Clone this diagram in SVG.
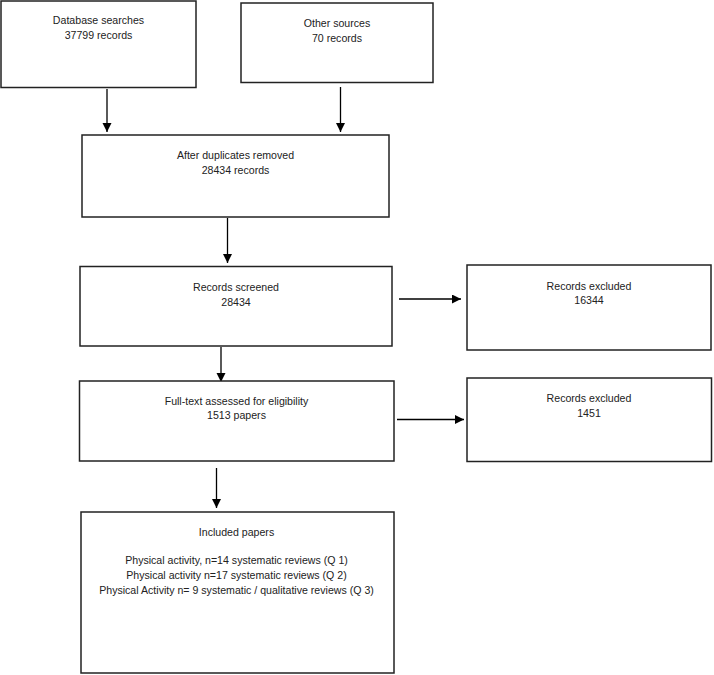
<svg xmlns="http://www.w3.org/2000/svg" width="714" height="675" viewBox="0 0 714 675">
<style>
.box{fill:#fff;stroke:#222;stroke-width:1.5}
.t{font-family:"Liberation Sans",Arial,sans-serif;font-size:10.6px;fill:#222;text-anchor:middle}
.c{stroke:#000;stroke-width:1.3;fill:none;marker-end:url(#ah)}
</style>
<defs>
<marker id="ah" markerWidth="10" markerHeight="10" refX="9" refY="4.5" orient="auto" markerUnits="userSpaceOnUse">
<path d="M0,0 L9,4.5 L0,9 Z" fill="#000"/>
</marker>
</defs>
<rect width="714" height="675" fill="#fff"/>
<g id="connectors">
<line class="c" x1="107" y1="89" x2="107" y2="132"/>
<line class="c" x1="340.5" y1="87" x2="340.5" y2="132"/>
<line class="c" x1="227.5" y1="218" x2="227.5" y2="263"/>
<line class="c" x1="399" y1="299" x2="461" y2="299"/>
<line class="c" x1="221" y1="347" x2="221" y2="382"/>
<line class="c" x1="397" y1="419.5" x2="464" y2="419.5"/>
<line class="c" x1="216.5" y1="468" x2="216.5" y2="508"/>
</g>
<g id="database">
<rect class="box" x="1" y="1" width="195" height="86.5"/>
<text class="t" x="98.5" y="24">Database searches</text>
<text class="t" x="98.5" y="38.5">37799 records</text>
</g>
<g id="other">
<rect class="box" x="241" y="3" width="192" height="79.5"/>
<text class="t" x="337" y="27">Other sources</text>
<text class="t" x="337" y="41.5">70 records</text>
</g>
<g id="duplicates">
<rect class="box" x="82" y="135" width="307" height="82"/>
<text class="t" x="235.5" y="158.5">After duplicates removed</text>
<text class="t" x="235.5" y="173.5">28434 records</text>
</g>
<g id="screened">
<rect class="box" x="80" y="266.5" width="312" height="79.5"/>
<text class="t" x="236" y="291">Records screened</text>
<text class="t" x="236" y="305.5">28434</text>
</g>
<g id="excluded1">
<rect class="box" x="467" y="265" width="244" height="85"/>
<text class="t" x="589" y="289.5">Records excluded</text>
<text class="t" x="589" y="304">16344</text>
</g>
<g id="fulltext">
<rect class="box" x="79.5" y="381" width="314.5" height="80"/>
<text class="t" x="236.5" y="404.5">Full-text assessed for eligibility</text>
<text class="t" x="236.5" y="419">1513 papers</text>
</g>
<g id="excluded2">
<rect class="box" x="467" y="378" width="244.5" height="83.5"/>
<text class="t" x="589" y="402">Records excluded</text>
<text class="t" x="589" y="417">1451</text>
</g>
<g id="included">
<rect class="box" x="81" y="512" width="313" height="161"/>
<text class="t" x="236.5" y="535.5">Included papers</text>
<text class="t" x="236.5" y="564">Physical activity, n=14 systematic reviews (Q 1)</text>
<text class="t" x="236.5" y="578.5">Physical activity n=17 systematic reviews (Q 2)</text>
<text class="t" x="236.5" y="593.5">Physical Activity n= 9 systematic / qualitative reviews (Q 3)</text>
</g>
</svg>
